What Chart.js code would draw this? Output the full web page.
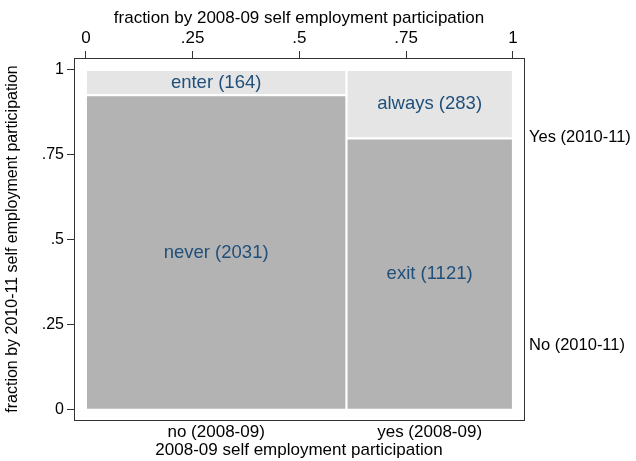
<!DOCTYPE html>
<html>
<head>
<meta charset="utf-8">
<script src="https://cdn.jsdelivr.net/npm/chart.js@4.4.1/dist/chart.umd.min.js"></script>
<style>
  html, body { margin: 0; padding: 0; background: #fff; }
  #wrap { width: 636px; height: 461px; }
</style>
</head>
<body>
<div id="wrap"><canvas id="chart" width="636" height="461"></canvas></div>
<script>
// Self employment participation, 2008-09 vs 2010-11 (counts per cell)
const columnLabels = ['no (2008-09)', 'yes (2008-09)'];
const rowLabels = ['No (2010-11)', 'Yes (2010-11)'];
const noNames = ['never', 'enter'];
const noCounts = [2031, 164];
const yesNames = ['exit', 'always'];
const yesCounts = [1121, 283];
const fractionTicks = [0, 0.25, 0.5, 0.75, 1];
const rowLabelPos = [0.19, 0.8];

const cellColors = ['#b3b3b3', '#e5e5e5'];
const labelColor = '#1f4f7a';
const axisColor = '#333';
const family = '"Liberation Sans", Arial, sans-serif';

Chart.defaults.font.family = family;
Chart.defaults.font.size = 16;
Chart.defaults.color = '#000';

// Build the mosaic cells: column width = share of all cases,
// cell height = share within the column
const columns = [
  { names: noNames, counts: noCounts },
  { names: yesNames, counts: yesCounts }
];
const grandTotal = columns.reduce((s, c) => s + c.counts.reduce((a, b) => a + b, 0), 0);

const cells = [];
const columnCenters = [];
let x0 = 0;
columns.forEach(col => {
  const colTotal = col.counts.reduce((a, b) => a + b, 0);
  const x1 = x0 + colTotal / grandTotal;
  columnCenters.push((x0 + x1) / 2);
  let y0 = 0;
  col.counts.forEach((n, i) => {
    const y1 = y0 + n / colTotal;
    cells.push({ name: col.names[i], count: n, x0, x1, y0, y1, color: cellColors[i] });
    y0 = y1;
  });
  x0 = x1;
});

const datasets = cells.map(c => ({
  label: c.name,
  data: [
    { x: c.x0, y: c.y0 }, { x: c.x1, y: c.y0 },
    { x: c.x1, y: c.y1 }, { x: c.x0, y: c.y1 }, { x: c.x0, y: c.y0 }
  ],
  showLine: true,
  fill: 'shape',
  backgroundColor: c.color,
  borderColor: '#fff',
  borderWidth: 2,
  pointRadius: 0,
  tension: 0
}));

// Cell labels, e.g. "never (2031)", centred in each cell
const cellLabels = {
  id: 'cellLabels',
  afterDatasetsDraw(chart) {
    const { ctx, scales } = chart;
    ctx.save();
    ctx.font = '18.5px ' + family;
    ctx.fillStyle = labelColor;
    ctx.textAlign = 'center';
    ctx.textBaseline = 'middle';
    cells.forEach(c => {
      const px = scales.x.getPixelForValue((c.x0 + c.x1) / 2);
      const py = scales.y.getPixelForValue((c.y0 + c.y1) / 2);
      ctx.fillText(c.name + ' (' + c.count + ')', px, py);
    });
    ctx.restore();
  }
};

const fmt = v => (v === 0 ? '0' : v === 1 ? '1' : String(v).replace(/^0/, ''));
const setTicks = vals => scale => { scale.ticks = vals.map(v => ({ value: v })); };

new Chart(document.getElementById('chart'), {
  type: 'scatter',
  data: { datasets },
  options: {
    responsive: false,
    animation: false,
    layout: { padding: 0 },
    plugins: { legend: { display: false }, tooltip: { enabled: false } },
    scales: {
      x: {
        type: 'linear', position: 'top', bounds: 'data',
        min: -0.028, max: 1.026,
        afterBuildTicks: setTicks(fractionTicks),
        afterFit: s => { s.height = 58; },
        ticks: { callback: v => fmt(v), padding: 2, maxRotation: 0, font: { size: 17 } },
        grid: { drawOnChartArea: false, tickLength: 7, color: axisColor },
        border: { color: axisColor },
        title: {
          display: true, text: 'fraction by 2008-09 self employment participation',
          font: { size: 17 }, padding: { top: 8, bottom: 0 }
        }
      },
      x2: {
        type: 'linear', axis: 'x', position: 'bottom', bounds: 'data',
        min: -0.028, max: 1.026,
        afterBuildTicks: setTicks(columnCenters),
        afterFit: s => { s.height = 41; },
        ticks: { callback: (v, i) => columnLabels[i], padding: 2, maxRotation: 0, font: { size: 17 } },
        grid: { drawOnChartArea: false, drawTicks: false },
        border: { color: axisColor },
        title: { display: true, text: '2008-09 self employment participation', font: { size: 17 }, padding: 0 }
      },
      y: {
        type: 'linear', position: 'left', bounds: 'data',
        min: -0.03, max: 1.035,
        afterBuildTicks: setTicks(fractionTicks),
        afterFit: s => { s.width = 74; },
        ticks: { callback: v => fmt(v), padding: 3 },
        grid: { drawOnChartArea: false, tickLength: 7, color: axisColor },
        border: { color: axisColor },
        title: {
          display: true, text: 'fraction by 2010-11 self employment participation',
          padding: { top: 3, bottom: 0 }
        }
      },
      y2: {
        type: 'linear', axis: 'y', position: 'right', bounds: 'data',
        min: -0.03, max: 1.035,
        afterBuildTicks: setTicks(rowLabelPos),
        afterFit: s => { s.width = 112; },
        ticks: { callback: (v, i) => rowLabels[i], padding: 5, font: { size: 16.5 } },
        grid: { drawOnChartArea: false, drawTicks: false },
        border: { color: axisColor }
      }
    }
  },
  plugins: [cellLabels]
});
</script>
</body>
</html>
